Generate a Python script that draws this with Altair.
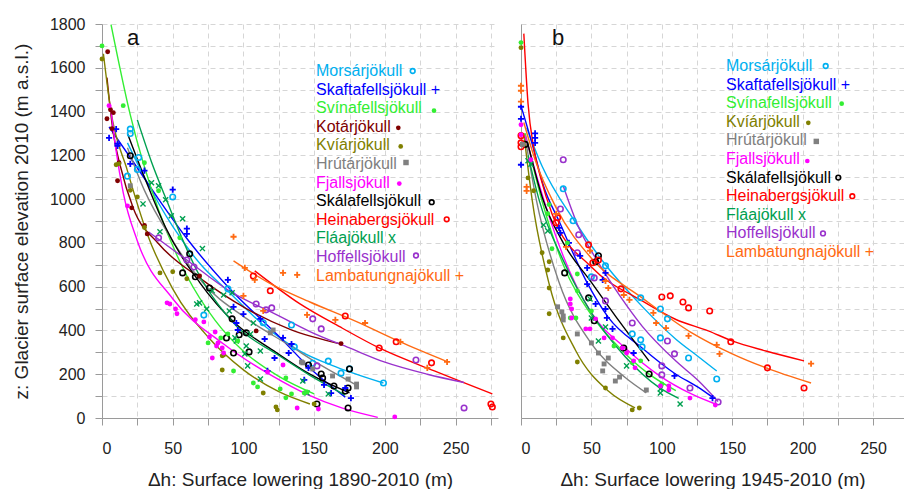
import altair as alt
import pandas as pd

FONT = "Liberation Sans"

NAMES = ["Morsárjökull", "Skaftafellsjökull", "Svínafellsjökull", "Kotárjökull",
         "Kvíárjökull", "Hrútárjökull", "Fjallsjökull", "Skálafellsjökull",
         "Heinabergsjökull", "Fláajökull", "Hoffellsjökull", "Lambatungnajökull"]
COLORS = ["#00B0F0", "#0000FF", "#33EE33", "#800000", "#808000", "#808080",
          "#FF00FF", "#000000", "#FF0000", "#00A050", "#9932CC", "#FF6A13"]
MARKERS = ["ring", "plus", "dot", "dot", "dot", "square", "dot", "ring",
           "ring", "x", "ring", "plus"]

# ---------------- panel a: 1890-2010 ----------------
a_morsar = [(18,1105),(20,1300),(20,1320),(25,1135),(26,1190),(50,1010),(72,470),(89,590),(114,435),(134,425),(136,325),(149,250),(160,260),(169,205),(175,225),(199,160)]
a_morsar_fit = [(18,1257),(30,1100),(50,875),(70,700),(89,580),(115,420),(140,306),(165,235),(199,160)]
a_skafta = [(5,1280),(10,1320),(11,1253),(11,1243),(20,1161),(30,1130),(50,1043),(60,865),(60,841),(89,631),(93,508),(95,434),(96,402),(100,475),(112,453),(115,361),(117,215),(122,274),(128,366),(132,297),(134,338),(143,174),(146,229),(157,151),(162,114),(172,137),(176,91)]
a_skafta_fit = [(5,1330),(20,1190),(40,1000),(60,820),(89,600),(124,380),(150,210),(172,95)]
a_svina = [(0,1700),(15,1427),(30,1166),(40,1038),(55,823),(75,343),(84,366),(89,384),(96,352),(93,215),(107,160),(110,142),(126,133),(130,183),(134,110),(130,92),(145,119),(143,114)]
a_svina_fit = [(6.4,1797),(20,1385),(40,950),(60,650),(80,446),(100,305),(125,190),(150,110)]
a_kotar = [(4,1673),(3.5,1367),(6,1408),(8,1395),(7,1322),(12,1166),(11,1084),(21,960),(30,880),(32,841),(69,649),(109,398),(169,340)]
a_kotar_fit = [(3.5,1555),(8,1300),(13,1150),(22,960),(40,796),(69,640),(102,500),(133,405),(169,338)]
a_kviar = [(0,1640),(10,1157),(12,1161),(20,1040),(25,1010),(30,870),(41,663),(50,668),(60,636),(85,284),(86,288),(85,219),(114,114),(123,50),(124,37),(150,64)]
a_kviar_fit = [(1,1664),(6,1413),(18,1129),(32,841),(50,590),(75,370),(100,220),(125,120),(147,64)]
a_hrutar = [(20,1061),(119,389),(121,402),(141,256),(142,252),(149,224),(163,192),(174,178),(180,155),(180,142)]
a_hrutar_fit = [(18,1235),(30,1040),(49,820),(71,620),(102,455),(133,330),(155,240),(180,150)]
a_fjalls = [(5,1427),(18,969),(46,526),(48,521),(52,498),(53,476),(66,449),(72,439),(76,370),(78,274),(80,393),(81,329),(82,343),(85,320),(86,297),(117,210),(128,242),(138,46),(153,41),(207,5)]
a_fjalls_fit = [(6,1427),(10,1220),(15,1030),(25,809),(50,545),(86,338),(121,190),(145,108),(170,45),(195,3)]
a_skala = [(20,1198),(57,663),(62,750),(66,645),(76,594),(88,366),(92,453),(93,297),(97,380),(102,389),(104,302),(146,242),(152,64),(155,201),(156,183),(164,146),(172,123),(174,137),(174,46),(175,224)]
a_skala_fit = [(18,1300),(30,1100),(45,870),(69,620),(93,440),(123,300),(147,200),(175,115)]
a_heina = [(107,649),(119,581),(172,466),(196,320),(208,348),(233,252),(275,64),(276,50)]
a_heina_fit = [(108,672),(140,521),(170,410),(196,320),(235,215),(276,110)]
a_flaa = [(29,978),(35,1075),(40,1061),(41,851),(45,997),(49,924),(57,910),(67,521),(69,526),(71,774),(74,498),(78,581),(86,562),(90,489),(92,572),(94,366),(95,352),(101,293),(102,329),(103,238),(105,384),(107,434),(112,306),(112,178),(142,169),(145,114),(160,110)]
a_flaa_fit = [(25,1362),(35,1170),(46,990),(58,800),(69,650),(82,520),(95,420),(124,290),(147,195),(172,105)]
a_hoff = [(40,823),(60,722),(65,690),(109,521),(116,494),(120,503),(149,453),(152,238),(155,407),(222,265),(256,46)]
a_hoff_fit = [(33,850),(60,722),(90,581),(124,470),(147,395),(175,320),(200,255),(230,200),(256,162)]
a_lamb = [(93,828),(100,558),(101,686),(108,631),(114,489),(128,663),(138,654),(145,471),(165,448),(186,434),(211,348),(230,229),(244,256)]
a_lamb_fit = [(93,718),(120,610),(147,530),(180,440),(210,350),(244,258)]

# ---------------- panel b: 1945-2010 ----------------
b_morsar = [(30,1047),(37,901),(50,645),(60,695),(79,384),(85,549),(85,357),(86,325),(99,498),(99,366),(104,453),(119,274),(139,178)]
b_morsar_fit = [(4,1326),(15,1150),(38,900),(60,700),(86,510),(110,360),(126,280),(139,215)]
b_skafta = [(0,1422),(0,1367),(0,1157),(10,1300),(10,1280),(10,1257),(27,869),(28,846),(34,800),(42,741),(47,686),(47,612),(53,521),(58,631),(60,663),(60,498),(61,457),(65,407),(80,297),(109,192),(136,91)]
b_skafta_fit = [(0,1426),(8,1250),(16,1060),(27,900),(46,630),(62,460),(86,320),(110,200),(126,140),(136,95)]
b_svina = [(0,1715),(19,933),(20,975),(22,773),(33,800),(35,457),(39,457),(40,658),(40,581),(50,489),(66,329),(79,252),(85,261),(100,155)]
b_svina_fit = [(3,1300),(15,990),(30,700),(50,470),(70,320),(90,205),(110,125)]
b_kviar = [(0,1692),(5,1097),(9,1038),(15,755),(19,676),(20,714),(20,594),(20,476),(30,366),(40,256),(60,137),(79,37),(84,46)]
b_kviar_fit = [(2,1300),(8,993),(20,612),(39,306),(62,123),(81,46)]
b_hrutar = [(1,1250),(26,508),(29,485),(30,466),(30,448),(40,384),(50,343),(55,297),(58,215),(59,247),(62,274),(67,169),(70,187),(89,128)]
b_hrutar_fit = [(3,1280),(11,993),(27,620),(50,340),(74,185),(89,115)]
b_fjalls = [(0,1340),(0,1294),(7,1180),(35,544),(35,521),(36,498),(36,457),(46,407),(49,407),(53,453),(59,366),(65,366),(72,320),(75,297),(80,261),(81,229),(99,146),(105,146),(105,128),(120,91),(138,59)]
b_fjalls_fit = [(3,1290),(10,1130),(18,960),(30,740),(50,480),(74,320),(98,195),(121,110),(138,64)]
b_skala = [(3,1250),(31,663),(48,549),(52,444),(53,714),(55,741),(73,320),(91,201)]
b_skala_fit = [(5,1250),(15,1010),(30,800),(50,620),(70,440),(91,260)]
b_heina = [(0,1290),(0,1257),(0,1239),(25,892),(26,915),(48,791),(51,709),(55,722),(71,590),(100,553),(106,558),(115,530),(119,503),(134,489),(149,348),(175,229),(201,137)]
b_heina_fit = [(2,1756),(5,1436),(9,1235),(14,1097),(22,933),(50,690),(86,535),(110,450),(133,398),(150,352),(174,306),(201,261)]
b_flaa = [(5,1175),(7,1160),(16,882),(19,855),(49,544),(50,457),(55,352),(60,416),(75,238),(99,133),(99,114),(113,64)]
b_flaa_fit = [(5,1200),(13,993),(30,720),(50,480),(74,280),(98,140),(112,90)]
b_hoff = [(30,1180),(28,955),(41,837),(40,755),(52,640),(60,535),(79,434),(100,238),(100,197),(104,352),(109,293),(120,137),(140,73)]
b_hoff_fit = [(30,1060),(41,870),(53,730),(70,560),(86,420),(110,260),(126,170),(140,75)]
b_lamb = [(0,1518),(0,1495),(0,1445),(4,1056),(4,1038),(25,933),(32,782),(49,764),(60,626),(62,594),(73,562),(77,540),(94,480),(96,434),(103,411),(119,375),(139,334),(141,293),(206,248)]
b_lamb_fit = [(2,1350),(10,1180),(25,960),(50,730),(86,549),(121,390),(150,293),(174,229),(206,160)]

A_SETS = {
    "Morsárjökull": (a_morsar, a_morsar_fit), "Skaftafellsjökull": (a_skafta, a_skafta_fit),
    "Svínafellsjökull": (a_svina, a_svina_fit), "Kotárjökull": (a_kotar, a_kotar_fit),
    "Kvíárjökull": (a_kviar, a_kviar_fit), "Hrútárjökull": (a_hrutar, a_hrutar_fit),
    "Fjallsjökull": (a_fjalls, a_fjalls_fit), "Skálafellsjökull": (a_skala, a_skala_fit),
    "Heinabergsjökull": (a_heina, a_heina_fit), "Fláajökull": (a_flaa, a_flaa_fit),
    "Hoffellsjökull": (a_hoff, a_hoff_fit), "Lambatungnajökull": (a_lamb, a_lamb_fit),
}
B_SETS = {
    "Morsárjökull": (b_morsar, b_morsar_fit), "Skaftafellsjökull": (b_skafta, b_skafta_fit),
    "Svínafellsjökull": (b_svina, b_svina_fit), "Kvíárjökull": (b_kviar, b_kviar_fit),
    "Hrútárjökull": (b_hrutar, b_hrutar_fit), "Fjallsjökull": (b_fjalls, b_fjalls_fit),
    "Skálafellsjökull": (b_skala, b_skala_fit), "Heinabergsjökull": (b_heina, b_heina_fit),
    "Fláajökull": (b_flaa, b_flaa_fit), "Hoffellsjökull": (b_hoff, b_hoff_fit),
    "Lambatungnajökull": (b_lamb, b_lamb_fit),
}

# legend layout (pixels inside each plot area)
A_LEG = dict(x=214, y0=47, dy=18.6, letter_x=31,
             sym={"Morsárjökull": (310.7, 0), "Svínafellsjökull": (332, 2.5), "Kotárjökull": (296.3, 1),
                  "Kvíárjökull": (298.7, 1), "Hrútárjökull": (304, -1.5), "Fjallsjökull": (297.3, 1),
                  "Skálafellsjökull": (329.7, 1), "Heinabergsjökull": (344.7, -0.5), "Hoffellsjökull": (314, -1.5)})
B_LEG = dict(x=205, y0=42, dy=18.6, letter_x=37,
             sym={"Morsárjökull": (304.7, 0), "Svínafellsjökull": (320.7, 0.5), "Kvíárjökull": (287.3, 1),
                  "Hrútárjökull": (295.3, 1), "Fjallsjökull": (286.3, 2), "Skálafellsjökull": (317.3, 0),
                  "Heinabergsjökull": (331.3, 0), "Hoffellsjökull": (302, 0)})

PLUS = "M-1,0H1M0,-1V1"
XSHP = "M-1,-1L1,1M-1,1L1,-1"

YTITLE = "z: Glacier surface elevation 2010 (m a.s.l.)"
cscale = alt.Scale(domain=NAMES, range=COLORS)
COL = dict(zip(NAMES, COLORS))
MK = dict(zip(NAMES, MARKERS))


def frames(sets):
    p, f = [], []
    for name, (pts, fit) in sets.items():
        p += [dict(glacier=name, dh=d, z=z) for d, z in pts]
        f += [dict(glacier=name, dh=d, z=z) for d, z in fit]
    return pd.DataFrame(p), pd.DataFrame(f)


def panel(sets, xmax, width, leg, letter, show_y, xtitle):
    pts, fit = frames(sets)
    xs = alt.Scale(domain=[0, xmax], nice=False, zero=False)
    ys = alt.Scale(domain=[0, 1800], nice=False, zero=False)
    xaxis = alt.Axis(values=list(range(0, xmax + 1, 25)),
                     labelExpr="datum.value % 50 == 0 ? '' + datum.value : ''",
                     title=xtitle, grid=True, tickSize=7, labelPadding=15, titlePadding=14)
    if show_y:
        yaxis = alt.Axis(values=list(range(0, 1801, 100)),
                         labelExpr="datum.value % 200 == 0 ? '' + datum.value : ''",
                         title=YTITLE, grid=True, tickSize=7, labelPadding=10, titlePadding=18)
    else:
        yaxis = alt.Axis(values=list(range(0, 1801, 100)), labels=False, ticks=False,
                         title=None, grid=True)
    X = alt.X("dh:Q", scale=xs, axis=xaxis)
    Y = alt.Y("z:Q", scale=ys, axis=yaxis)
    C = alt.Color("glacier:N", scale=cscale, legend=None)

    lines = alt.Chart(fit).mark_line(strokeWidth=1.4, interpolate="monotone", clip=True).encode(
        x=X, y=Y, color=C, detail="glacier:N")
    layers = [lines]
    present = list(sets.keys())
    for kind in ["ring", "plus", "x", "square", "dot"]:
        nm = [n for n in present if MK[n] == kind]
        if not nm:
            continue
        base = alt.Chart(pts).transform_filter(alt.FieldOneOfPredicate(field="glacier", oneOf=nm))
        if kind == "ring":
            m = base.mark_point(shape="circle", filled=False, strokeWidth=1.6, size=30, opacity=1)
        elif kind == "plus":
            m = base.mark_point(shape=PLUS, filled=False, strokeWidth=1.8, size=38, opacity=1)
        elif kind == "x":
            m = base.mark_point(shape=XSHP, filled=False, strokeWidth=1.4, size=26, opacity=1)
        elif kind == "square":
            m = base.mark_square(size=24, opacity=1)
        else:
            m = base.mark_circle(size=24, opacity=1)
        layers.append(m.encode(x=X, y=Y, color=C))
    # legend
    for i, n in enumerate(present):
        y = leg["y0"] + i * leg["dy"]
        label = n
        if MK[n] == "plus":
            label = n + " +"
        elif MK[n] == "x":
            label = n + " x"
        layers.append(alt.Chart(pd.DataFrame({"t": [label]})).mark_text(
            align="left", baseline="middle", font=FONT, fontSize=16, color=COL[n]).encode(
            x=alt.value(leg["x"]), y=alt.value(y), text="t:N"))
        if n in leg["sym"]:
            sx, oy = leg["sym"][n]
            kind = MK[n]
            src = alt.Chart(pd.DataFrame({"t": [n]}))
            if kind == "ring":
                mk = src.mark_point(shape="circle", filled=False, strokeWidth=1.6, size=22, color=COL[n], opacity=1)
            elif kind == "square":
                mk = src.mark_square(size=30, color=COL[n], opacity=1)
            else:
                mk = src.mark_circle(size=22, color=COL[n], opacity=1)
            layers.append(mk.encode(x=alt.value(sx), y=alt.value(y + oy)))
    layers.append(alt.Chart(pd.DataFrame({"t": [letter]})).mark_text(
        align="center", baseline="middle", font=FONT, fontSize=22, color="#111111").encode(
        x=alt.value(leg["letter_x"]), y=alt.value(14), text="t:N"))
    return alt.layer(*layers).properties(width=width, height=394)


pa = panel(A_SETS, 280, 396, A_LEG, "a", True, "Δh: Surface lowering 1890-2010 (m)")
pb = panel(B_SETS, 272, 383, B_LEG, "b", False, "Δh: Surface lowering 1945-2010 (m)")

chart = alt.hconcat(pa, pb, spacing=15).properties(
    padding={"left": 12, "top": 16, "right": 0, "bottom": 0}
).configure_axis(
    labelFont=FONT, labelFontSize=16, labelColor="#222222",
    titleFont=FONT, titleFontSize=19, titleFontWeight="normal", titleColor="#222222",
    domainColor="#9a9a9a", tickColor="#9a9a9a", gridColor="#d6d6d6", gridDash=[5, 4], gridWidth=1
).configure_view(strokeWidth=0)

chart.save("out.html", embed_options={"renderer": "svg", "actions": False})
